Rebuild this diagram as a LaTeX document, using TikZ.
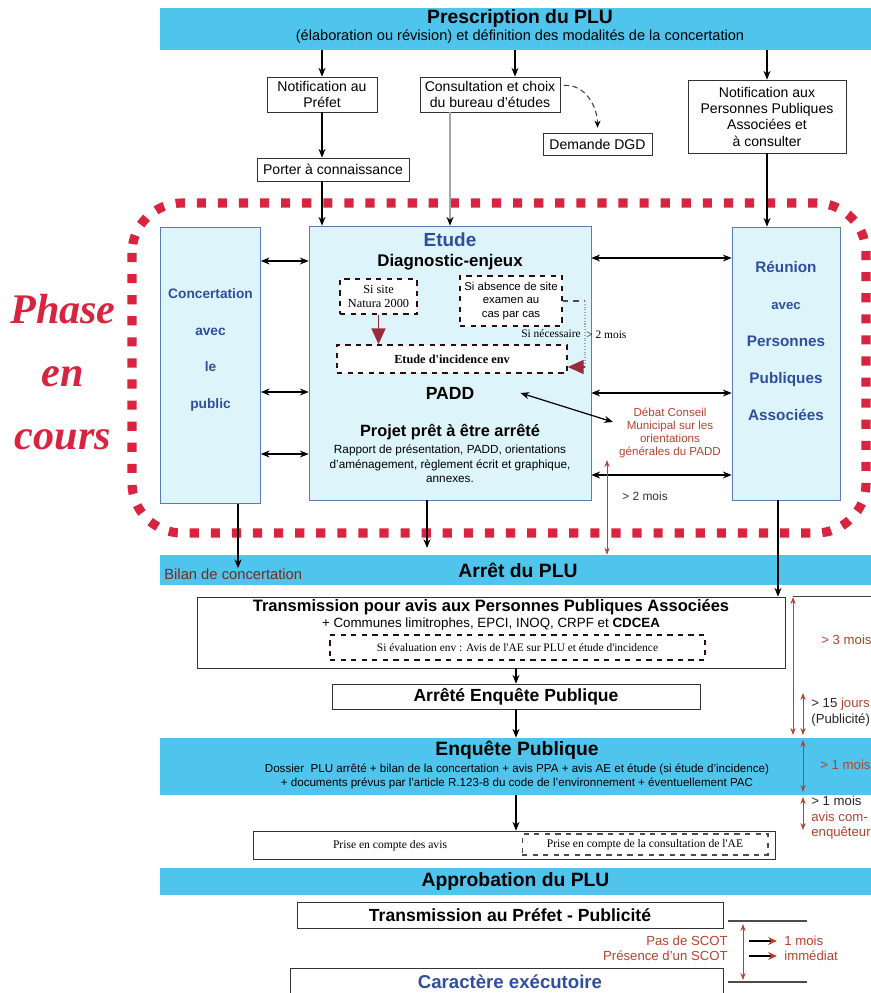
\documentclass[tikz,border=0pt]{standalone}
\usepackage{fontspec}
\setmainfont{Liberation Sans}
\newfontfamily\timesfont{Liberation Serif}
\usepackage{tikz}
\usetikzlibrary{arrows.meta,positioning}

\definecolor{bandblue}{HTML}{4FC4EC}
\definecolor{boxcyan}{HTML}{DDF5FA}
\definecolor{boxedge}{HTML}{5B7DB0}
\definecolor{titleblue}{HTML}{2F4F9E}
\definecolor{phasered}{HTML}{D8243F}
\definecolor{notered}{HTML}{B4432F}
\definecolor{darkred}{HTML}{9A2B3A}

\newcommand{\fsz}[2]{\fontsize{#1}{#2}\selectfont}

\begin{document}
\begin{tikzpicture}[x=0.02cm,y=-0.02cm,
  band/.style={fill=bandblue,minimum width=14.22cm,inner sep=0pt},
  plainbox/.style={draw=black!80,fill=white,inner sep=1pt,align=center,font=\fsz{8}{9.3}},
  phasebox/.style={draw=boxedge,fill=boxcyan,inner sep=0pt},
  dashbox/.style={draw=black!70!darkred,dashed,fill=white,inner sep=1pt,align=center,line width=0.9pt},
  arr/.style={-{Stealth[length=5pt,width=4pt]},black,line width=0.7pt},
  dblarr/.style={{Stealth[length=5pt,width=4pt]}-{Stealth[length=5pt,width=4pt]},black,line width=0.7pt},
  redarr/.style={{Stealth[length=4pt,width=3pt]}-{Stealth[length=4pt,width=3pt]},notered,line width=0.5pt},
  note/.style={text=notered,font=\fsz{7.5}{9},inner sep=0pt,anchor=west}]

\useasboundingbox (0,0) rectangle (871,993);

% bandeaux
\node[band,minimum height=0.84cm] (prescr) at (515.5,29) {};
\node[font=\bfseries\fsz{11}{13}] (prescrtitle) at (520,19) {Prescription du PLU};
\node[font=\fsz{8.3}{10}] (prescrsub) at (520,37) {(élaboration ou révision) et définition des modalités de la concertation};
\node[band,minimum height=0.6cm,font=\bfseries\fsz{11}{13}] (arret) at (515.5,570) {\hspace*{0.1cm}Arrêt du PLU};
\node[band,minimum height=1.14cm] (enquete) at (515.5,766.5) {};
\node[band,minimum height=0.54cm,font=\bfseries\fsz{11}{13}] (approb) at (515.5,881.5) {Approbation du PLU};

% avant la phase
\node[plainbox,minimum width=2.2cm,minimum height=0.7cm] (notifpref) at (322,94.5) {Notification au\\Préfet};
\node[plainbox,minimum width=2.8cm,minimum height=0.7cm] (consult) at (490,94.5) {Consultation et choix\\du bureau d'études};
\node[plainbox,minimum width=2.18cm,minimum height=0.44cm] (dgd) at (597.5,144) {Demande DGD};
\node[plainbox,minimum width=3.04cm,minimum height=0.46cm] (porter) at (333,169.5) {Porter à connaissance};
\node[plainbox,minimum width=3.16cm,minimum height=1.46cm] (notifppa) at (767,116.5) {Notification aux\\Personnes Publiques\\Associées et\\à consulter};

% phase en cours
\draw[phasered,line width=5.2pt,dash pattern=on 5.2pt off 6.8pt,rounded corners=1cm] (132,203) rectangle (866,533);
\node[text=phasered,font=\timesfont\bfseries\itshape\fsz{24}{36},align=center] (phase) at (63,372) {Phase\\en\\cours};

\node[phasebox,minimum width=2.0cm,minimum height=5.52cm] (concert) at (210.5,365.5) {};
\node[text=titleblue,font=\bfseries\fsz{7.8}{21},align=center] (concerttxt) at (210.5,350) {Concertation\\avec\\le\\public};
\node[phasebox,minimum width=5.64cm,minimum height=5.48cm] (etude) at (450,363) {};
\node[phasebox,minimum width=2.16cm,minimum height=5.46cm] (reunion) at (786,363.5) {};
\node[text=titleblue,font=\bfseries\fsz{8.7}{21},align=center] (reuniontxt) at (786,341) {Réunion\\{\fsz{7.5}{21}avec}\\Personnes\\Publiques\\Associées};

% dans l'etude
\node[text=titleblue,font=\bfseries\fsz{10.8}{13}] (etudetitle) at (450,240) {Etude};
\node[font=\bfseries\fsz{9.6}{12}] (diag) at (450,262) {Diagnostic-enjeux};
\node[dashbox,minimum width=1.54cm,minimum height=0.7cm,font=\timesfont\fsz{7}{8}] (natura) at (378.5,296.5) {Si site\\Natura 2000};
\node[dashbox,minimum width=2.04cm,minimum height=1.0cm,font=\fsz{6.5}{7.8}] (absence) at (511,301) {Si absence de site\\examen au\\cas par cas};
\node[dashbox,minimum width=4.6cm,minimum height=0.56cm,font=\timesfont\bfseries\fsz{7}{8}] (incid) at (452,359) {Etude d'incidence env};
\node[font=\bfseries\fsz{10}{12}] (padd) at (450,393) {PADD};
\node[font=\bfseries\fsz{9.3}{11}] (projet) at (450,432) {Projet prêt à être arrêté};
\node[font=\fsz{6.7}{8.2},align=center] (rapport) at (450,464) {Rapport de présentation, PADD, orientations\\d'aménagement, règlement écrit et graphique,\\annexes.};

\draw[darkred,line width=0.8pt,-{Triangle[length=9pt,width=8pt]}] (natura.south) -- (natura.south |- incid.north);
\coordinate (bendtop) at (585,301);
\coordinate (bendbot) at (585,367);
\draw[black!70,dashed,line width=0.6pt] (absence.east) -- (bendtop);
\draw[black!35,densely dotted,line width=0.6pt] (bendtop) -- (bendbot);
\draw[darkred,line width=0.6pt,-{Triangle[length=9pt,width=8pt]}] (bendbot) -- (bendbot -| incid.east);
\node[font=\timesfont\fsz{6.5}{8},anchor=east,inner sep=0pt] (sinec) at (581,334) {Si nécessaire};
\node[font=\timesfont\fsz{6.5}{8},anchor=west,inner sep=0pt] (deuxmois) at (586,335) {> 2 mois};

% liaisons de la phase
\foreach \yy in {261,392,454} {
  \coordinate (ly) at (0,\yy);
  \draw[dblarr] (concert.east |- ly) -- (etude.west |- ly);
}
\foreach \yy in {258,393,475} {
  \coordinate (ry) at (0,\yy);
  \draw[dblarr] (etude.east |- ry) -- (reunion.west |- ry);
}
\node[text=notered,font=\fsz{6.6}{7.3},align=center] (debat) at (670,433) {Débat Conseil\\Municipal sur les\\orientations\\générales du PADD};
\draw[dblarr] ([xshift=0.8cm]padd.east) -- ([yshift=0.22cm]debat.west);
\coordinate (debtop) at (607,460);
\draw[redarr] (debtop) -- (debtop |- arret.north);
\node[font=\fsz{6.8}{8},text=black!80] (twomonths) at (645,496) {> 2 mois};

% fleches du haut
\coordinate (consin) at (515,0);
\draw[arr] (prescr.south -| notifpref.north) -- (notifpref.north);
\draw[arr] (prescr.south -| consin) -- (consult.north -| consin);
\draw[arr] (prescr.south -| notifppa.north) -- (notifppa.north);
\draw[arr] (notifpref.south) -- (notifpref.south |- porter.north);
\draw[arr] (porter.south -| notifpref.south) -- (etude.north -| notifpref.south);
\draw[black!35,line width=0.6pt,-{Stealth[length=5pt,width=4pt,color=black]}] (consult.south -| etude.north) -- (etude.north);
\draw[black!75,densely dashed,line width=0.6pt,-{Stealth[length=4pt,width=3.5pt,color=black]}] ([xshift=2pt,yshift=0.18cm]consult.east) to[out=5,in=90] ([yshift=0.1cm]dgd.north);
\draw[arr] (notifppa.south) -- (notifppa.south |- reunion.north);

% arret du PLU
\node[text=notered!65!black,font=\fsz{8.4}{10},anchor=west,inner sep=0pt] (bilan) at (164,574) {Bilan de concertation};
\coordinate (bilanx) at (238,0);
\draw[arr] (concert.south -| bilanx) -- (bilan.north -| bilanx);
\coordinate (etudeout) at (427,548);
\draw[arr] (etude.south -| etudeout) -- (etudeout);

\node[plainbox,minimum width=11.76cm,minimum height=1.42cm] (transppa) at (491,632.5) {};
\node[font=\bfseries\fsz{9.4}{11}] (transtitle) at (491,607) {Transmission pour avis aux Personnes Publiques Associées};
\node[font=\fsz{7.6}{9}] (communes) at (491,624) {+ Communes limitrophes, EPCI, INOQ, CRPF et \textbf{CDCEA}};
\node[dashbox,minimum width=7.5cm,minimum height=0.5cm,font=\timesfont\fsz{6.5}{8}] (evalenv) at (517.5,647.5) {Si évaluation env : Avis de l'AE sur PLU et étude d'incidence};
\coordinate (ppaout) at (778,0);
\draw[arr] (reunion.south -| ppaout) -- (transppa.north -| ppaout);

\node[plainbox,minimum width=7.36cm,minimum height=0.5cm,font=\bfseries\fsz{10}{12}] (arrete) at (516,696.5) {Arrêté Enquête Publique};
\draw[arr] (arrete.north |- transppa.south) -- (arrete.north);
\draw[arr] (arrete.south) -- (arrete.south |- enquete.north);

% enquete publique
\node[font=\bfseries\fsz{11}{13}] (enqtitle) at (517,750) {Enquête Publique};
\node[font=\fsz{6.6}{8},align=center] (enqtxt) at (517,776) {Dossier\ \ PLU arrêté + bilan de la concertation + avis PPA + avis AE et étude (si étude d'incidence)\\+ documents prévus par l'article R.123-8 du code de l'environnement + éventuellement PAC};

\node[plainbox,minimum width=10.44cm,minimum height=0.56cm] (prise) at (514,845) {};
\node[font=\timesfont\fsz{6.6}{8}] (priseavis) at (390,846) {Prise en compte des avis};
\node[dashbox,draw=black!70,line width=0.6pt,minimum width=4.92cm,minimum height=0.42cm,font=\timesfont\fsz{6.6}{8}] (priseae) at (645,844.5) {Prise en compte de la consultation de l'AE};
\draw[arr] (enquete.south -| arrete.south) -- (prise.north -| arrete.south);

% approbation
\node[plainbox,minimum width=8.52cm,minimum height=0.52cm,font=\bfseries\fsz{10}{12}] (transpref) at (510,915) {Transmission au Préfet - Publicité};
\node[plainbox,minimum width=8.66cm,minimum height=0.9cm,anchor=north] (caract) at (506.5,968) {};
\node[text=titleblue,font=\bfseries\fsz{10.6}{12}] (caracttxt) at (510,982) {Caractère exécutoire};

% delais a droite
\coordinate (d3top) at (793,597);
\coordinate (d3bot) at (793,735);
\draw[black!75,line width=0.6pt] (transppa.north east) ++(0.16cm,0) coordinate (linestart) -- (linestart -| 871,0);
\draw[redarr] (d3top) -- (d3bot);
\node[note] (trois) at (821,640) {> 3 mois};
\coordinate (d15top) at (803,693);
\coordinate (d15bot) at (803,735);
\draw[redarr] (d15top) -- (d15bot);
\node[note,text=black!85,align=left,font=\fsz{7.5}{8.8}] (quinze) at (811,712) {> 15 \textcolor{notered}{jours}\\(Publicité)};
\coordinate (d1top) at (803,740);
\coordinate (d1bot) at (803,792);
\draw[redarr] (d1top) -- (d1bot);
\node[note] (unmois) at (820,765) {> 1 mois};
\coordinate (d1btop) at (803,797);
\coordinate (d1bbot) at (803,830);
\draw[redarr] (d1btop) -- (d1bbot);
\node[note,align=left,font=\fsz{7.5}{8.8}] (avis) at (811,818) {\textcolor{black!85}{> 1 mois}\\avis com-\\enquêteur};

% bas
\coordinate (sctop) at (743,924);
\coordinate (scbot) at (743,980);
\draw[black!70,line width=0.6pt] (728,921) coordinate (lineA) -- (807,921);
\draw[black!70,line width=0.6pt] (728,982) coordinate (lineB) -- (807,982);
\draw[redarr] (sctop) -- (scbot);
\node[note,anchor=east] (passcot) at (728,941) {Pas de SCOT};
\node[note,anchor=east] (presscot) at (728,956) {Présence d'un SCOT};
\node[note] (unmoisb) at (784,941) {1 mois};
\node[note] (immediat) at (784,956) {immédiat};
\draw[black,line width=1pt,shorten >=4pt,-{Stealth[length=5pt,width=4.5pt,color=notered]}] (passcot.east) ++(0.42cm,0) -- (unmoisb.west);
\draw[black,line width=1pt,shorten >=4pt,-{Stealth[length=5pt,width=4.5pt,color=notered]}] (presscot.east) ++(0.42cm,0) -- (immediat.west);
\end{tikzpicture}
\end{document}
